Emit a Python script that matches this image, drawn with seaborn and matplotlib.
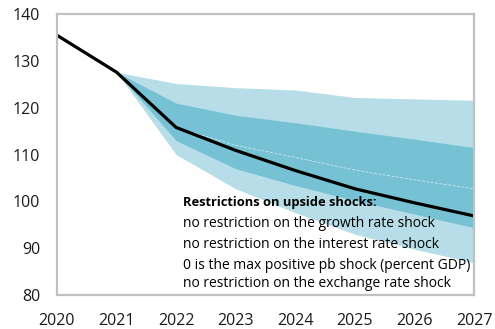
import matplotlib.pyplot as plt
import seaborn as sns
import pandas as pd

sns.set_style("white")
plt.rcParams["font.family"] = ["Open Sans", "DejaVu Sans"]

# Fan chart data (debt, percent of GDP)
years_hist = [2020, 2021]
debt_hist = [135.5, 127.6]

years_proj = [2021, 2022, 2023, 2024, 2025, 2026, 2027]
baseline = [127.6, 115.8, 110.9, 106.6, 102.7, 99.7, 96.9]
median = [127.6, 115.8, 112.0, 109.4, 106.7, 104.6, 102.7]
p10 = [127.6, 110.0, 102.7, 97.6, 93.0, 89.8, 86.9]
p25 = [127.6, 113.0, 107.0, 103.4, 100.2, 97.3, 94.4]
p75 = [127.6, 121.0, 118.4, 116.8, 115.0, 113.3, 111.5]
p90 = [127.6, 125.2, 124.3, 123.8, 122.2, 121.9, 121.6]

notes = [
    "no restriction on the growth rate shock",
    "no restriction on the interest rate shock",
    "0 is the max positive pb shock (percent GDP)",
    "no restriction on the exchange rate shock",
]
note_y = [95.3, 90.8, 86.3, 82.4]

light = "#b7dee8"
dark = "#76c1d4"
grey = "#c0c0c0"

line_df = pd.DataFrame({"year": years_hist + years_proj[1:],
                        "debt": debt_hist + baseline[1:]})

fig = plt.figure(figsize=(4.95, 3.29), dpi=100)
ax = fig.add_axes([0.115, 0.103, 0.843, 0.854])

# bands
ax.fill_between(years_proj, p10, p90, color=light, linewidth=0)
ax.fill_between(years_proj, p25, p75, color=dark, linewidth=0)
ax.plot(years_proj[1:], median[1:], color="white", linestyle="--",
        linewidth=0.6, alpha=0.6)

# baseline
sns.lineplot(data=line_df, x="year", y="debt", color="black",
             linewidth=2.3, ax=ax)

ax.set_xlim(2020, 2027)
ax.set_ylim(80, 140)
ax.set_xticks(range(2020, 2028))
ax.set_yticks(range(80, 141, 10))
ax.set_xlabel("")
ax.set_ylabel("")

for s in ax.spines.values():
    s.set_color(grey)
    s.set_linewidth(1.6)

ax.tick_params(axis="both", direction="in", length=4, width=1,
               color=grey, labelsize=11.5, labelcolor="#1a1a1a")
ax.tick_params(axis="x", pad=13)
ax.tick_params(axis="y", pad=12)

# notes
ax.text(2022.12, 99.7, "Restrictions on upside shocks:", fontsize=9.3,
        fontweight="bold", va="center", color="black")
for t, y in zip(notes, note_y):
    ax.text(2022.12, y, t, fontsize=10, va="center", color="black")

fig.savefig("out.png", dpi=100)
